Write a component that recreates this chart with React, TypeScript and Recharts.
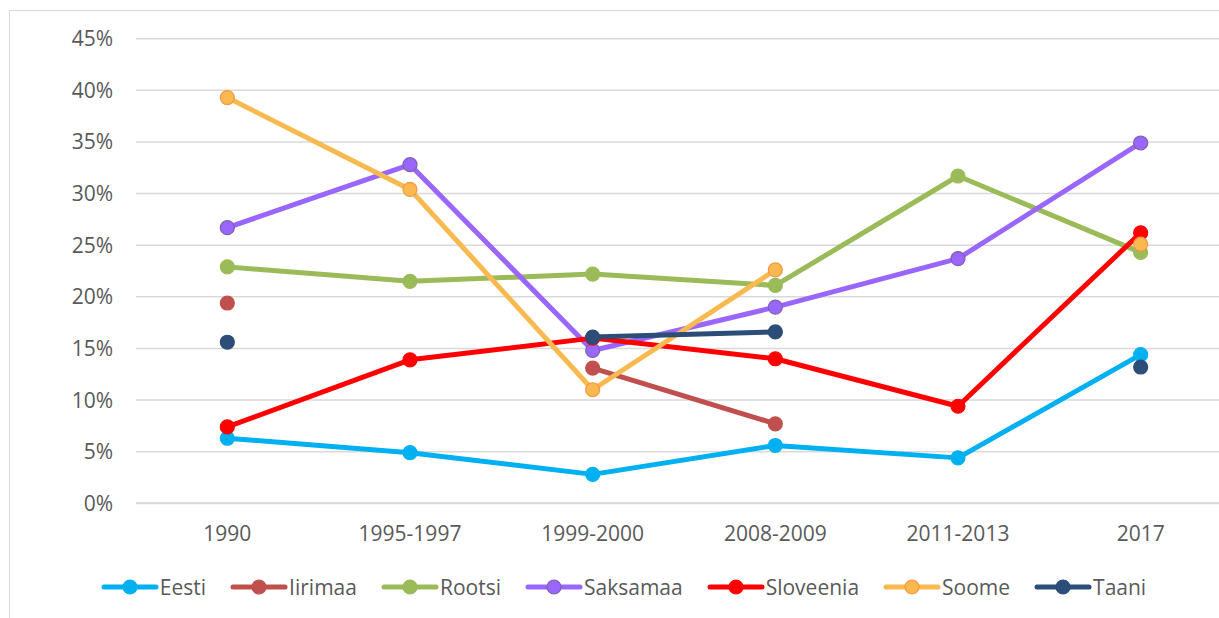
import { CartesianGrid, Line, LineChart, XAxis, YAxis } from "recharts";

const categories = ["1990", "1995-1997", "1999-2000", "2008-2009", "2011-2013", "2017"];
const yTicks = [0, 5, 10, 15, 20, 25, 30, 35, 40, 45];

const eesti = [6.3, 4.9, 2.8, 5.6, 4.4, 14.4];
const iirimaa = [19.4, null, 13.1, 7.7, null, null];
const rootsi = [22.9, 21.5, 22.2, 21.1, 31.7, 24.3];
const saksamaa = [26.7, 32.8, 14.8, 19.0, 23.7, 34.9];
const sloveenia = [7.4, 13.9, 16.0, 14.0, 9.4, 26.2];
const soome = [39.3, 30.4, 11.0, 22.6, null, 25.1];
const taani = [15.6, null, 16.1, 16.6, null, 13.2];

const series = [
  { key: "Eesti", values: eesti, color: "#00B0F0", dotFill: "#00B0F0", dotStroke: "#00B0F0" },
  { key: "Iirimaa", values: iirimaa, color: "#C0504D", dotFill: "#C0504D", dotStroke: "#C0504D" },
  { key: "Rootsi", values: rootsi, color: "#9BBB59", dotFill: "#9BBB59", dotStroke: "#9BBB59" },
  { key: "Saksamaa", values: saksamaa, color: "#9966FF", dotFill: "#9966FF", dotStroke: "#7F60A8" },
  { key: "Sloveenia", values: sloveenia, color: "#FF0000", dotFill: "#FF0000", dotStroke: "#FF0000" },
  { key: "Soome", values: soome, color: "#F8BA50", dotFill: "#F8BA50", dotStroke: "#F79646" },
  { key: "Taani", values: taani, color: "#2C4D78", dotFill: "#2C4D78", dotStroke: "#2C4D78" },
];

const data = categories.map((c, i) => {
  const row: any = { i, name: c };
  series.forEach((s) => {
    row[s.key] = s.values[i];
  });
  return row;
});

const font = "'Open Sans', sans-serif";
const textColor = "#595959";

function ChartLegend() {
  return (
    <div
      style={{
        position: "absolute",
        left: 0,
        top: 573,
        width: 1247,
        display: "flex",
        justifyContent: "center",
        alignItems: "center",
        fontFamily: font,
        fontSize: 21,
        color: textColor,
      }}
    >
      {series.map((s, idx) => (
        <div
          key={s.key}
          style={{ display: "flex", alignItems: "center", marginRight: idx === series.length - 1 ? 0 : 24 }}
        >
          <svg width={58} height={20}>
            <line x1={3} y1={10} x2={55} y2={10} stroke={s.color} strokeWidth={5} strokeLinecap="round" />
            <circle cx={29} cy={10} r={7} fill={s.dotFill} stroke={s.dotStroke} strokeWidth={1.2} />
          </svg>
          <span style={{ marginLeft: 1, lineHeight: "28px" }}>{s.key}</span>
        </div>
      ))}
    </div>
  );
}

export default function App() {
  return (
    <div
      style={{
        position: "absolute",
        left: 0,
        top: 0,
        width: 1219,
        height: 618,
        overflow: "hidden",
        background: "#fff",
      }}
    >
      <div
        style={{
          position: "absolute",
          left: 9,
          top: 10,
          width: 1300,
          height: 700,
          border: "1.5px solid #D9D9D9",
        }}
      />
      <div style={{ position: "absolute", left: 0, top: 0 }}>
        <LineChart
          width={1240}
          height={600}
          data={data}
          margin={{ top: 38.7, right: 8, left: 0, bottom: 0 }}
        >
          <CartesianGrid vertical={false} stroke="#D9D9D9" strokeWidth={1.5} />
          <XAxis
            dataKey="i"
            type="number"
            domain={[-0.5, 5.5]}
            ticks={[0, 1, 2, 3, 4, 5]}
            tickFormatter={(v) => categories[v]}
            height={96.7}
            axisLine={{ stroke: "#D9D9D9", strokeWidth: 2 }}
            tickLine={false}
            tickSize={6}
            tickMargin={17}
            tick={{ fill: textColor, fontSize: 21, fontFamily: font }}
          />
          <YAxis
            type="number"
            domain={[0, 45]}
            ticks={yTicks}
            width={136}
            tickFormatter={(v) => `${v}%`}
            axisLine={false}
            tickLine={false}
            tickSize={6}
            tickMargin={17}
            tick={{ fill: textColor, fontSize: 21, fontFamily: font }}
          />
          {series.map((s) => (
            <Line
              key={s.key}
              type="linear"
              dataKey={s.key}
              stroke={s.color}
              strokeWidth={5}
              strokeLinejoin="round"
              strokeLinecap="round"
              dot={{ r: 7, fill: s.dotFill, stroke: s.dotStroke, strokeWidth: 1.2 }}
              activeDot={false}
              isAnimationActive={false}
            />
          ))}
        </LineChart>
      </div>
      <ChartLegend />
    </div>
  );
}
